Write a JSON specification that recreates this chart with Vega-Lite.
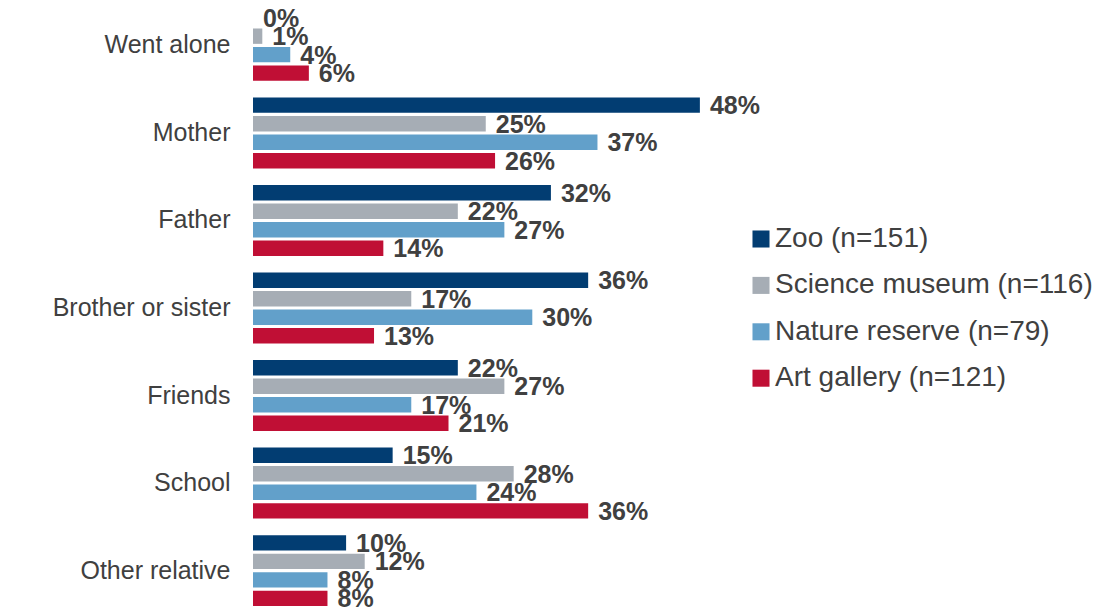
{
  "$schema": "https://vega.github.io/schema/vega-lite/v6.json",
  "width": 465.5,
  "height": 616,
  "autosize": "none",
  "padding": {"left": 253, "top": 0, "right": 379.5, "bottom": 0},
  "config": {"view": {"stroke": null}, "font": "Liberation Sans"},
  "data": {
    "values": [
      {"relation": "Went alone", "venue": "Zoo (n=151)", "pct": 0.00},
      {"relation": "Went alone", "venue": "Science museum (n=116)", "pct": 0.01},
      {"relation": "Went alone", "venue": "Nature reserve (n=79)", "pct": 0.04},
      {"relation": "Went alone", "venue": "Art gallery (n=121)", "pct": 0.06},
      {"relation": "Mother", "venue": "Zoo (n=151)", "pct": 0.48},
      {"relation": "Mother", "venue": "Science museum (n=116)", "pct": 0.25},
      {"relation": "Mother", "venue": "Nature reserve (n=79)", "pct": 0.37},
      {"relation": "Mother", "venue": "Art gallery (n=121)", "pct": 0.26},
      {"relation": "Father", "venue": "Zoo (n=151)", "pct": 0.32},
      {"relation": "Father", "venue": "Science museum (n=116)", "pct": 0.22},
      {"relation": "Father", "venue": "Nature reserve (n=79)", "pct": 0.27},
      {"relation": "Father", "venue": "Art gallery (n=121)", "pct": 0.14},
      {"relation": "Brother or sister", "venue": "Zoo (n=151)", "pct": 0.36},
      {"relation": "Brother or sister", "venue": "Science museum (n=116)", "pct": 0.17},
      {"relation": "Brother or sister", "venue": "Nature reserve (n=79)", "pct": 0.30},
      {"relation": "Brother or sister", "venue": "Art gallery (n=121)", "pct": 0.13},
      {"relation": "Friends", "venue": "Zoo (n=151)", "pct": 0.22},
      {"relation": "Friends", "venue": "Science museum (n=116)", "pct": 0.27},
      {"relation": "Friends", "venue": "Nature reserve (n=79)", "pct": 0.17},
      {"relation": "Friends", "venue": "Art gallery (n=121)", "pct": 0.21},
      {"relation": "School", "venue": "Zoo (n=151)", "pct": 0.15},
      {"relation": "School", "venue": "Science museum (n=116)", "pct": 0.28},
      {"relation": "School", "venue": "Nature reserve (n=79)", "pct": 0.24},
      {"relation": "School", "venue": "Art gallery (n=121)", "pct": 0.36},
      {"relation": "Other relative", "venue": "Zoo (n=151)", "pct": 0.10},
      {"relation": "Other relative", "venue": "Science museum (n=116)", "pct": 0.12},
      {"relation": "Other relative", "venue": "Nature reserve (n=79)", "pct": 0.08},
      {"relation": "Other relative", "venue": "Art gallery (n=121)", "pct": 0.08}
    ]
  },
  "encoding": {
    "y": {
      "field": "relation",
      "type": "nominal",
      "sort": ["Went alone", "Mother", "Father", "Brother or sister", "Friends", "School", "Other relative"],
      "scale": {"paddingInner": 0.19, "paddingOuter": 0.114},
      "title": null,
      "axis": {
        "domain": false,
        "ticks": false,
        "labelPadding": 23,
        "labelFontSize": 25,
        "labelColor": "#404040",
        "labelFont": "Liberation Sans"
      }
    },
    "yOffset": {
      "field": "venue",
      "type": "nominal",
      "sort": ["Zoo (n=151)", "Science museum (n=116)", "Nature reserve (n=79)", "Art gallery (n=121)"],
      "scale": {"paddingInner": 0.17, "paddingOuter": 0}
    },
    "x": {
      "field": "pct",
      "type": "quantitative",
      "scale": {"domain": [0, 0.5], "nice": false},
      "axis": null
    }
  },
  "layer": [
    {
      "mark": {"type": "bar"},
      "encoding": {
        "color": {
          "field": "venue",
          "type": "nominal",
          "scale": {
            "domain": ["Zoo (n=151)", "Science museum (n=116)", "Nature reserve (n=79)", "Art gallery (n=121)"],
            "range": ["#023d72", "#a6adb5", "#62a0ca", "#c00f35"]
          },
          "legend": {
            "title": null,
            "orient": "none",
            "legendX": 494,
            "legendY": 225,
            "padding": 0,
            "symbolType": "square",
            "symbolSize": 290,
            "symbolStrokeWidth": 0,
            "labelFontSize": 28,
            "labelColor": "#404040",
            "labelFont": "Liberation Sans",
            "labelOffset": 0,
            "rowPadding": 18.4,
            "labelLimit": 500
          }
        }
      }
    },
    {
      "mark": {
        "type": "text",
        "align": "left",
        "baseline": "middle",
        "dx": 10,
        "dy": 1,
        "fontWeight": "bold",
        "fontSize": 25,
        "color": "#404040",
        "font": "Liberation Sans"
      },
      "encoding": {
        "text": {"field": "pct", "type": "quantitative", "format": ".0%"}
      }
    }
  ]
}
